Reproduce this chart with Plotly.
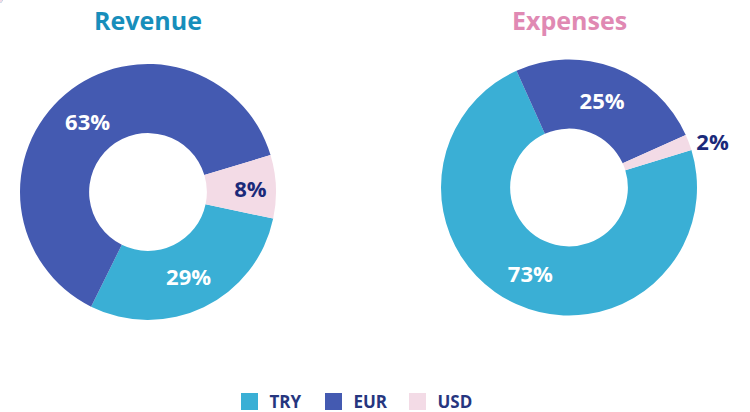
import plotly.graph_objects as go

currencies = ["TRY", "EUR", "USD"]
revenue_share = [29, 63, 8]
expense_share = [73, 25, 2]
titles = ["Revenue", "Expenses"]

colors = ["#3AAFD5", "#445AB1", "#F3DBE6"]
dark = "#1B2A7A"
font_family = "'Open Sans', Lato, sans-serif"

fig = go.Figure()

# legend carrier (tiny, invisible pie) so legend squares can be larger
fig.add_trace(go.Pie(
    labels=currencies, values=revenue_share, name="legend",
    sort=False, textinfo="none", hoverinfo="skip",
    marker=dict(colors=colors, line=dict(width=5, color=colors)),
    domain=dict(x=[0.0, 0.0001], y=[0.9999, 1.0]),
    showlegend=True,
))

fig.add_trace(go.Pie(
    labels=currencies, values=revenue_share, name=titles[0],
    hole=0.46, sort=False, direction="clockwise", rotation=102,
    marker=dict(colors=colors, line=dict(width=0)),
    textinfo="percent", texttemplate="%{percent:.0%}",
    textposition=["inside", "inside", "inside"],
    insidetextorientation="horizontal",
    textfont=dict(family=font_family, size=22, color=["white", "white", dark], weight="bold"),
    domain=dict(x=[20/750, 276/750], y=[1-320/412, 1-64/412]),
    showlegend=False,
))

fig.add_trace(go.Pie(
    labels=currencies, values=expense_share, name=titles[1],
    hole=0.46, sort=False, direction="clockwise", rotation=73,
    marker=dict(colors=colors, line=dict(width=0)),
    textinfo="percent", texttemplate="%{percent:.0%}",
    textposition=["inside", "inside", "outside"],
    insidetextorientation="horizontal",
    textfont=dict(family=font_family, size=22, color=["white", "white", dark], weight="bold"),
    outsidetextfont=dict(family=font_family, size=22, color=dark, weight="bold"),
    domain=dict(x=[441/750, 697/750], y=[1-316/412, 1-59/412]),
    showlegend=False,
))

fig.update_layout(
    width=750, height=412,
    margin=dict(l=0, r=0, t=0, b=0, autoexpand=False),
    paper_bgcolor="white", plot_bgcolor="white",
    font=dict(family=font_family),
    legend=dict(
        orientation="h", x=0.474, xanchor="center",
        yref="container", y=10/412, yanchor="middle",
        font=dict(family=font_family, size=17, color="#26367F", weight="bold"),
        itemwidth=30, entrywidth=39, tracegroupgap=0,
    ),
    annotations=[
        dict(text="<b>Revenue</b>", x=148/750, y=1-20/412, xref="paper", yref="paper",
             showarrow=False, font=dict(family=font_family, size=25, color="#178EBB"),
             xanchor="center", yanchor="middle"),
        dict(text="<b>Expenses</b>", x=569/750, y=1-20/412, xref="paper", yref="paper",
             showarrow=False, font=dict(family=font_family, size=25, color="#E089B3"),
             xanchor="center", yanchor="middle"),
    ],
)

fig.write_html("out.html", config={"displayModeBar": False},
               post_script="document.body.style.margin='0';")
